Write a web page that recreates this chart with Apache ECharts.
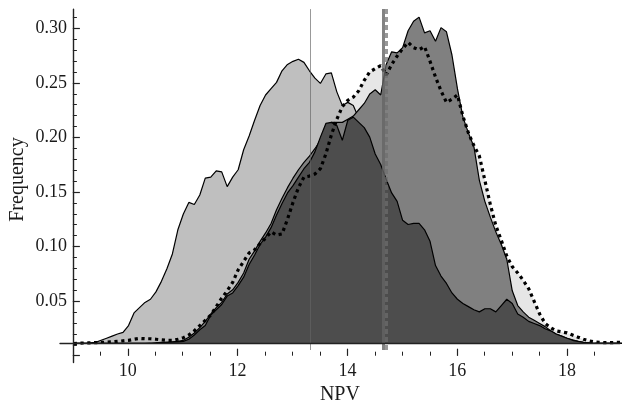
<!DOCTYPE html>
<html><head><meta charset="utf-8">
<script src="https://cdn.jsdelivr.net/npm/echarts@6.0.0/dist/echarts.min.js"></script>
<style>html,body{margin:0;padding:0;background:#fff}#c{width:628px;height:410px}</style>
</head><body><div id="c"></div><script>
// NPV grid (9.0 .. 19.0, step 0.1)
const npv = [];
for (let i = 0; i <= 100; i++) npv.push(Math.round((9 + i * 0.1) * 10) / 10);

// light gray histogram
const seriesA = [
 0,0,0,0.0005,0.001,0.003,0.005,0.007,0.009,0.0105,
 0.017,0.029,0.034,0.039,0.042,0.049,0.059,0.071,0.085,0.108,
 0.123,0.134,0.132,0.141,0.157,0.158,0.164,0.163,0.149,0.158,
 0.165,0.184,0.197,0.212,0.226,0.236,0.242,0.248,0.259,0.265,
 0.268,0.270,0.267,0.259,0.252,0.247,0.256,0.257,0.239,0.226,
 0.229,0.226,0.214,0.205,0.196,0.185,0.170,0.158,0.146,0.135,
 0.125,0.112,0.103,0.094,0.086,0.078,0.068,0.060,0.053,0.046,
 0.040,0.035,0.031,0.027,0.024,0.021,0.019,0.017,0.015,0.013,
 0.011,0.009,0.008,0.007,0.005,0.004,0.003,0.002,0.0015,0.001,
 0.0005,0,0,0,0,0,0,0,0,0,
 0];
// dark gray histogram
const seriesB = [
 0,0,0,0,0,0,0,0,0,0,
 0,0,0,0,0.0003,0.0005,0.0008,0.001,0.0012,0.0015,
 0.002,0.004,0.008,0.013,0.017,0.027,0.032,0.037,0.045,0.048,
 0.055,0.063,0.075,0.084,0.094,0.101,0.110,0.122,0.133,0.143,
 0.150,0.158,0.166,0.172,0.182,0.196,0.209,0.210,0.207,0.193,
 0.212,0.215,0.210,0.205,0.196,0.180,0.170,0.156,0.143,0.135,
 0.117,0.113,0.114,0.114,0.108,0.097,0.074,0.064,0.057,0.048,
 0.042,0.038,0.035,0.032,0.030,0.033,0.033,0.030,0.036,0.042,
 0.038,0.028,0.025,0.021,0.019,0.017,0.014,0.012,0.009,0.007,
 0.005,0.003,0.002,0.001,0.0005,0,0,0,0,0,
 0];
// medium gray histogram
const seriesC = [
 0,0,0,0,0,0,0,0,0,0,
 0,0,0,0,0,0.0005,0.001,0.001,0.0015,0.002,
 0.003,0.006,0.010,0.015,0.021,0.028,0.034,0.039,0.047,0.051,
 0.058,0.067,0.080,0.088,0.097,0.105,0.114,0.127,0.138,0.148,
 0.157,0.165,0.172,0.178,0.185,0.193,0.205,0.210,0.210,0.210,
 0.213,0.216,0.222,0.228,0.237,0.241,0.236,0.265,0.277,0.276,
 0.281,0.297,0.306,0.310,0.295,0.297,0.287,0.300,0.296,0.274,
 0.242,0.215,0.200,0.187,0.155,0.135,0.120,0.106,0.094,0.080,
 0.050,0.036,0.030,0.025,0.022,0.019,0.016,0.012,0.009,0.007,
 0.005,0.0035,0.002,0.001,0.0005,0,0,0,0,0,
 0];
// dotted histogram (very light fill)
const seriesD = [
 0,0.0003,0.0005,0.0005,0.0008,0.001,0.0012,0.0015,0.002,0.0025,
 0.003,0.004,0.0048,0.0045,0.0045,0.004,0.0035,0.003,0.003,0.004,
 0.0055,0.008,0.012,0.017,0.022,0.027,0.035,0.043,0.050,0.058,
 0.070,0.078,0.086,0.089,0.095,0.100,0.106,0.103,0.104,0.118,
 0.134,0.148,0.158,0.159,0.161,0.166,0.180,0.198,0.213,0.225,
 0.231,0.234,0.240,0.250,0.258,0.261,0.264,0.255,0.265,0.273,
 0.280,0.286,0.281,0.279,0.282,0.268,0.253,0.240,0.229,0.232,
 0.236,0.216,0.200,0.188,0.178,0.155,0.132,0.112,0.098,0.083,
 0.073,0.067,0.060,0.052,0.040,0.028,0.019,0.015,0.012,0.011,
 0.010,0.008,0.006,0.004,0.0025,0.0015,0.001,0.0008,0.0008,0.001,
 0.001];
// reference lines
const refThin = 13.32;
const refThick = [14.65, 14.71];
// ticks
const xMajorTicks = [10, 12, 14, 16, 18];
const yMajorTicks = [0.05, 0.10, 0.15, 0.20, 0.25, 0.30];

// layout helpers (pixels)
const XPX = 54.9, YPX = 1091.3, X10 = 127.8, Y0 = 355.7;
const px = v => X10 + (v - 10) * XPX;
const py = v => Y0 - v * YPX;
const XMIN = 8.75, XMAX = 18.963, YMIN = -0.0062, YMAX = 0.3176;

const font = {fontFamily: 'Liberation Serif', color: '#1a1a1a'};
const axCol = '#222';
const pts = arr => npv.map((x, i) => [x, arr[i]]);

const hidden = gi => ({gridIndex: gi, type: 'value', min: 0, max: 1, show: false});

const option = {
  animation: false,
  backgroundColor: '#fff',
  grid: [
    {left: px(XMIN), top: py(YMAX), width: px(XMAX) - px(XMIN), height: py(YMIN) - py(YMAX)},
    {left: px(9), top: py(YMAX), width: 10, height: py(YMIN) - py(YMAX)},
    {left: px(9), top: py(0.31), width: 10, height: Y0 - py(0.31)},
    {left: px(9), top: py(0.30), width: 10, height: Y0 - py(0.30)},
    {left: px(9), top: Y0 - 50, width: px(18.5) - px(9), height: 50},
    {left: px(10), top: Y0 - 50, width: px(18) - px(10), height: 50}
  ],
  xAxis: [
    {gridIndex: 0, type: 'value', min: XMIN, max: XMAX, z: 20,
     axisLine: {show: true, onZero: true, lineStyle: {color: axCol, width: 1.4}},
     axisTick: {show: false}, axisLabel: {show: false}, splitLine: {show: false},
     name: 'NPV', nameLocation: 'middle', nameGap: 35,
     nameTextStyle: Object.assign({fontSize: 20}, font)},
    hidden(1), hidden(2), hidden(3),
    {gridIndex: 4, type: 'value', min: 9, max: 18.5, interval: 0.5, z: 20,
     axisLine: {show: false, onZero: false}, axisTick: {show: true, inside: true, length: 4, lineStyle: {color: axCol, width: 1}},
     axisLabel: {show: false}, splitLine: {show: false}},
    {gridIndex: 5, type: 'value', min: 10, max: 18, interval: 2, z: 20,
     axisLine: {show: false, onZero: false}, axisTick: {show: true, inside: true, length: 7, lineStyle: {color: axCol, width: 1.2}},
     axisLabel: Object.assign({show: true, margin: 7, fontSize: 18,
       formatter: v => xMajorTicks.includes(v) ? String(v) : ''}, font),
     splitLine: {show: false}}
  ],
  yAxis: [
    {gridIndex: 0, type: 'value', min: YMIN, max: YMAX,
     axisLine: {show: false}, axisTick: {show: false}, axisLabel: {show: false}, splitLine: {show: false},
     name: 'Frequency', nameLocation: 'middle', nameGap: 32, nameRotate: 90,
     nameTextStyle: Object.assign({fontSize: 20}, font)},
    {gridIndex: 1, type: 'value', min: YMIN, max: YMAX, z: 20,
     axisLine: {show: true, onZero: false, lineStyle: {color: axCol, width: 1.4}},
     axisTick: {show: false}, axisLabel: {show: false}, splitLine: {show: false}},
    {gridIndex: 2, type: 'value', min: 0, max: 0.31, interval: 0.01, z: 20,
     axisLine: {show: false, onZero: false}, axisTick: {show: true, inside: true, length: 4, lineStyle: {color: axCol, width: 1}},
     axisLabel: {show: false}, splitLine: {show: false}},
    {gridIndex: 3, type: 'value', min: 0, max: 0.30, interval: 0.05, z: 20,
     axisLine: {show: false, onZero: false}, axisTick: {show: true, inside: true, length: 7, lineStyle: {color: axCol, width: 1.2}},
     axisLabel: Object.assign({show: true, margin: 6, fontSize: 18,
       formatter: v => { const m = yMajorTicks.find(t => Math.abs(t - v) < 1e-9); return m === undefined ? '' : m.toFixed(2); }}, font),
     splitLine: {show: false}},
    hidden(4), hidden(5)
  ],
  series: [
    {name: 'D fill', type: 'line', z: 1, xAxisIndex: 0, yAxisIndex: 0, data: pts(seriesD), symbol: 'none', silent: true,
     lineStyle: {opacity: 0, width: 0}, areaStyle: {color: '#e6e6e6', opacity: 1}},
    {name: 'A', type: 'line', z: 2, xAxisIndex: 0, yAxisIndex: 0, data: pts(seriesA), symbol: 'none', silent: true,
     lineStyle: {color: '#000', width: 1.2}, areaStyle: {color: '#bfbfbf', opacity: 1}},
    {name: 'C', type: 'line', z: 3, xAxisIndex: 0, yAxisIndex: 0, data: pts(seriesC), symbol: 'none', silent: true,
     lineStyle: {color: '#000', width: 1.2}, areaStyle: {color: '#808080', opacity: 1}},
    {name: 'B', type: 'line', z: 4, xAxisIndex: 0, yAxisIndex: 0, data: pts(seriesB), symbol: 'none', silent: true,
     lineStyle: {color: '#000', width: 1.2}, areaStyle: {color: '#4d4d4d', opacity: 1}},
    {name: 'D line', type: 'line', z: 5, xAxisIndex: 0, yAxisIndex: 0, data: pts(seriesD), symbol: 'none', silent: true,
     lineStyle: {color: '#000', width: 3.2, type: [3.2, 3.6], cap: 'butt'},
     markLine: {silent: true, z: 10, symbol: ['none', 'none'], label: {show: false}, animation: false,
       data: [
         {xAxis: refThin, lineStyle: {color: 'rgba(100,100,100,0.66)', width: 1, type: 'solid'}},
         {xAxis: refThick[0], lineStyle: {color: 'rgba(100,100,100,0.8)', width: 3, type: 'solid'}},
         {xAxis: refThick[1], lineStyle: {color: 'rgba(110,110,110,0.7)', width: 3, type: [5, 3]}}
       ]}}
  ]
};
const chart = echarts.init(document.getElementById('c'), null, {renderer: 'canvas'});
chart.setOption(option);
</script></body></html>
